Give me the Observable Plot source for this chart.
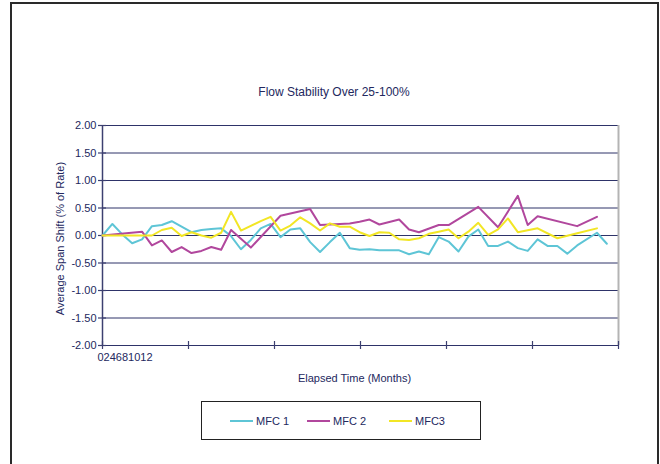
<!DOCTYPE html>
<html>
<head>
<meta charset="utf-8">
<script src="https://cdn.jsdelivr.net/npm/d3@7"></script>
<script src="https://cdn.jsdelivr.net/npm/@observablehq/plot@0.6"></script>
<style>
  body { margin: 0; background: #fff; }
  #wrap { position: relative; width: 660px; height: 464px; overflow: hidden; font-family: "Liberation Sans", Arial, sans-serif; color: #23285e; }
  #wrap svg { position: absolute; left: 0; top: 0; }
  .frame { position: absolute; left: 10px; top: 2px; width: 649px; height: 480px; box-sizing: border-box; border: 2px solid #2a2a2a; border-bottom: none; pointer-events: none; }
  .title { position: absolute; left: 0; width: 668px; top: 85px; text-align: center; font-size: 12px; line-height: 14px; }
  .legend { position: absolute; left: 201px; top: 401px; width: 280px; height: 39px; box-sizing: border-box; border: 1.5px solid #222; background: #fff; }
  .item { position: absolute; top: 0; height: 100%; display: flex; align-items: center; font-size: 11px; }
  .sw { display: inline-block; width: 23px; height: 2px; margin-right: 3px; }
</style>
</head>
<body>
<div id="wrap"></div>
<script>
const titleText = "Flow Stability Over 25-100%";
const yLabel = "Average Span Shift (% of Rate)";
const xLabel = "Elapsed Time (Months)";
const seriesNames = ["MFC 1", "MFC 2", "MFC3"];
const seriesColors = ["#5ec5d6", "#b1479d", "#f2e625"];
const yTicks = [-2, -1.5, -1, -0.5, 0, 0.5, 1, 1.5, 2];
const xTicks = [0, 2, 4, 6, 8, 10, 12];
const xTickLabels = ["0", "2", "4", "6", "8", "10", "12"];

// weekly readings (week index since start)
const weeks = [0,1,2,3,4,5,6,7,8,9,10,11,12,13,14,15,16,17,18,19,20,21,22,23,24,25,
               26,27,28,29,30,31,32,33,34,35,36,37,38,39,40,41,42,43,44,45,46,47,48,49,50,51];
const mfc1 = [0, 0.21, 0.02, -0.14, -0.07, 0.17, 0.19, 0.26, 0.16, 0.06, 0.10, 0.12, 0.13,
              -0.01, -0.25, -0.08, 0.13, 0.21, -0.03, 0.11, 0.13, -0.12, -0.30, -0.12, 0.05, -0.23,
              -0.26, -0.25, -0.27, -0.27, -0.27, -0.34, -0.29, -0.34, -0.03, -0.11, -0.29, -0.02, 0.11,
              -0.19, -0.19, -0.11, -0.23, -0.28, -0.07, -0.19, -0.19, -0.33, -0.18, null, 0.05, -0.15];
const mfc2 = [0, null, null, null, 0.07, -0.18, -0.09, -0.30, -0.21, -0.32, -0.28, -0.21, -0.26,
              0.10, null, -0.22, null, null, 0.36, null, null, 0.48, 0.19, 0.20, null, 0.22,
              0.25, 0.29, 0.20, null, 0.29, 0.11, 0.06, null, 0.19, 0.19, null, null, 0.52,
              null, 0.15, null, 0.72, 0.19, 0.35, null, null, null, 0.17, null, 0.34, null];
const mfc3 = [0, null, null, null, null, 0, 0.10, 0.14, -0.01, 0.06, 0.00, -0.04, 0.05,
              0.43, 0.09, null, 0.26, 0.34, 0.09, 0.18, 0.33, 0.22, 0.09, 0.22, 0.16, 0.16,
              0.06, -0.01, 0.06, 0.05, -0.07, -0.08, -0.05, 0.03, 0.07, 0.11, -0.05, 0.07, 0.23,
              0.01, 0.11, 0.31, 0.06, null, 0.13, null, -0.05, null, 0.04, null, 0.13, null];

const seriesValues = [mfc1, mfc2, mfc3];
const weeksPerYear = 52.18;
const rows = seriesValues.map((vals, s) =>
  weeks.map((w, i) => ({series: seriesNames[s], month: w * 12 / weeksPerYear, value: vals[i]}))
       .filter(d => d.value != null));

const navy = "#23285e";
const grid = "#2e3369";

const chart = Plot.plot({
  width: 660,
  height: 464,
  marginLeft: 102,
  marginRight: 42,
  marginTop: 125,
  marginBottom: 119,
  style: {fontFamily: "'Liberation Sans', Arial, sans-serif", fontSize: "11px", color: navy, background: "transparent"},
  x: {domain: [0, 12], axis: null},
  y: {domain: [-2, 2], axis: null},
  marks: [
    Plot.ruleY(yTicks, {stroke: grid, strokeWidth: 1}),
    Plot.ruleX([12], {stroke: "#b4b4b4", strokeWidth: 2}),
    Plot.ruleX([0], {stroke: "#3c4070", strokeWidth: 1.5}),
    Plot.ruleY(yTicks, {x1: 0, x2: 0, insetLeft: -4, insetRight: -4, stroke: "#3c4070", strokeWidth: 1.2}),
    Plot.ruleX(xTicks, {y1: -2, y2: -2, insetTop: -4, insetBottom: -4, stroke: "#3c4070", strokeWidth: 1.2}),
    Plot.axisY({ticks: yTicks, tickSize: 0, tickPadding: 6, tickFormat: d => d.toFixed(2), label: null, fill: navy}),
    ...rows.map((data, s) => Plot.line(data, {x: "month", y: "value", stroke: seriesColors[s], strokeWidth: 2})),
    Plot.text([xTickLabels.join("")], {frameAnchor: "bottom-left", textAnchor: "start", dx: -5, dy: 15, fill: navy, fontSize: 11}),
    Plot.text([xLabel], {frameAnchor: "bottom", dx: -6, dy: 36, fill: navy, fontSize: 11}),
    Plot.text([yLabel], {frameAnchor: "left", textAnchor: "middle", dx: -42, dy: 3, rotate: -90, fill: navy, fontSize: 11})
  ]
});

const wrap = document.getElementById("wrap");
wrap.appendChild(chart);

const title = document.createElement("div");
title.className = "title";
title.textContent = titleText;
wrap.appendChild(title);

const legend = document.createElement("div");
legend.className = "legend";
const itemLefts = [28, 105, 187];
seriesNames.forEach((name, i) => {
  const it = document.createElement("div");
  it.className = "item";
  it.style.left = itemLefts[i] + "px";
  const sw = document.createElement("span");
  sw.className = "sw";
  sw.style.background = seriesColors[i];
  it.appendChild(sw);
  const t = document.createElement("span");
  t.textContent = name;
  it.appendChild(t);
  legend.appendChild(it);
});
wrap.appendChild(legend);

const frame = document.createElement("div");
frame.className = "frame";
wrap.appendChild(frame);
</script>
</body>
</html>
